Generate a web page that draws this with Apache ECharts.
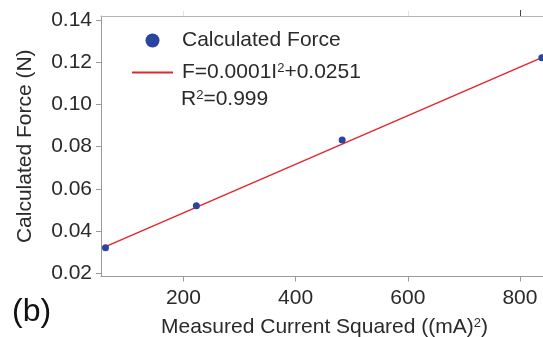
<!DOCTYPE html>
<html>
<head>
<meta charset="utf-8">
<script src="https://cdn.jsdelivr.net/npm/echarts@6/dist/echarts.min.js"></script>
<style>html,body{margin:0;padding:0;background:#fff;}#c{width:543px;height:337px;}</style>
</head>
<body>
<div id="c"></div>
<script>
// Data
const forceX = [61, 223, 483, 839];
const forceY = [0.032, 0.0519, 0.0832, 0.1223];
const fitX = [61, 839];
const fitY = [0.0325, 0.1223];
const xTicks = [200, 400, 600, 800];
const yTicks = [0.02, 0.04, 0.06, 0.08, 0.10, 0.12, 0.14];
const seriesNames = ['Calculated Force', 'fit'];
const fitLabel = 'F=0.0001I{s|2}+0.0251';
const r2Label = 'R{s|2}=0.999';

const FONT = 'Liberation Sans, Arial, sans-serif';
const chart = echarts.init(document.getElementById('c'), null, {renderer: 'canvas'});
const axisGray = '#9a9a9a';
const textCol = '#2a2a2a';
const FS = 21;
const rich = {s: {fontSize: 13, verticalAlign: 'top', fontFamily: FONT, color: textCol}};

const opt = {
  animation: false,
  backgroundColor: '#fff',
  grid: {left: 101, top: 16, width: 447, height: 260.5, outerBoundsMode: 'none', containLabel: false},
  xAxis: [{
    type: 'value', min: 53, max: 850, position: 'bottom',
    axisLine: {show: true, lineStyle: {color: axisGray, width: 1}},
    axisTick: {show: true, customValues: xTicks, length: 5, lineStyle: {color: axisGray}},
    axisLabel: {customValues: xTicks, margin: 11, fontSize: FS, fontFamily: FONT, color: textCol},
    splitLine: {show: false},
    name: 'Measured Current Squared ((mA){s|2})',
    nameLocation: 'middle', nameGap: 40,
    nameTextStyle: {fontSize: FS, fontFamily: FONT, color: textCol, rich: rich}
  }, {
    type: 'value', min: 53, max: 850, position: 'top',
    axisLine: {show: true, lineStyle: {color: '#b5b5b5', width: 1}},
    axisTick: {show: true, customValues: [200, 600], length: 5, lineStyle: {color: '#e2e2e2'}},
    axisLabel: {show: false}, splitLine: {show: false}
  }, {
    type: 'value', min: 53, max: 850, position: 'top',
    axisLine: {show: false},
    axisTick: {show: true, customValues: [800], length: 6, lineStyle: {color: '#444'}},
    axisLabel: {show: false}, splitLine: {show: false}
  }],
  yAxis: {
    type: 'value', min: 0.0183, max: 0.1421,
    axisLine: {show: true, lineStyle: {color: axisGray, width: 1}},
    axisTick: {show: true, customValues: yTicks, length: 5, lineStyle: {color: axisGray}},
    axisLabel: {customValues: yTicks, margin: 9, fontSize: FS, fontFamily: FONT, color: textCol,
      formatter: v => v.toFixed(2)},
    splitLine: {show: false},
    name: 'Calculated Force (N)', nameLocation: 'middle', nameGap: 65,
    nameTextStyle: {fontSize: FS, fontFamily: FONT, color: textCol}
  },
  legend: {
    orient: 'vertical', left: 126, top: 25,
    itemWidth: 41, itemHeight: 14, itemGap: 11,
    data: [{name: seriesNames[0], icon: 'circle'}, {name: seriesNames[1], itemStyle: {opacity: 0}}],
    formatter: n => n === 'fit' ? fitLabel : n,
    textStyle: {fontSize: FS, fontFamily: FONT, color: textCol, padding: [0, 0, 0, 4], rich: rich}
  },
  graphic: [
    {type: 'text', left: 181, top: 89, style: {text: r2Label, fontSize: FS, fontFamily: FONT, fill: textCol, rich: rich}},
    {type: 'text', left: 12, top: 296, style: {text: '(b)', fontSize: 32, fontFamily: FONT, fill: '#111'}}
  ],
  series: [{
    name: seriesNames[1], type: 'line', data: fitX.map((x, i) => [x, fitY[i]]),
    symbol: 'none', lineStyle: {color: '#e3262c', width: 1.5}, itemStyle: {color: '#e3262c'}, z: 2
  }, {
    name: seriesNames[0], type: 'scatter', data: forceX.map((x, i) => [x, forceY[i]]),
    symbol: 'circle', symbolSize: 7, itemStyle: {color: '#2a44a0', opacity: 1}, z: 3
  }]
};
chart.setOption(opt);
</script>
</body>
</html>
